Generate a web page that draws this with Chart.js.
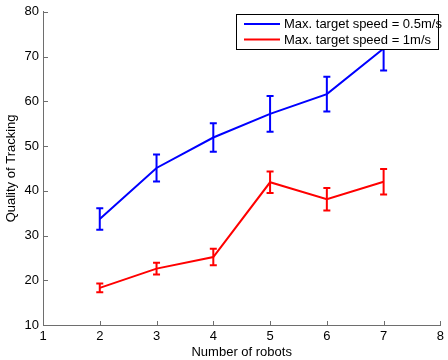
<!DOCTYPE html>
<html>
<head>
<meta charset="utf-8">
<script src="https://cdn.jsdelivr.net/npm/chart.js@4/dist/chart.umd.min.js"></script>
<style>
  html, body { margin: 0; padding: 0; background: #fff; }
  #wrap { width: 448px; height: 360px; }
</style>
</head>
<body>
<div id="wrap"><canvas id="c" width="448" height="360"></canvas></div>
<script>
// ---- data ----
const robots = [2, 3, 4, 5, 6, 7];
const speed05 = [33.7, 45.1, 51.9, 57.2, 61.6, 71.8];
const speed05Err = [2.4, 3.0, 3.2, 4.0, 3.9, 4.9];
const speed1 = [18.3, 22.6, 25.2, 41.9, 38.1, 42.0];
const speed1Err = [1.0, 1.3, 1.85, 2.4, 2.5, 2.85];
const seriesLabels = ['Max. target speed = 0.5m/s', 'Max. target speed = 1m/s'];
const xTicks = [1, 2, 3, 4, 5, 6, 7, 8];
const yTicks = [10, 20, 30, 40, 50, 60, 70, 80];

const FONT = '"Liberation Sans", Arial, Helvetica, sans-serif';
const AXIS_COLOR = '#6e6e6e';

const errorBarPlugin = {
  id: 'errorBars',
  afterDatasetsDraw(chart) {
    const ctx = chart.ctx;
    const xs = chart.scales.x, ys = chart.scales.y;
    chart.data.datasets.forEach(ds => {
      ctx.save();
      ctx.strokeStyle = ds.borderColor;
      ctx.lineWidth = 2;
      ds.data.forEach((pt, i) => {
        const e = ds.errors[i];
        const px = xs.getPixelForValue(pt.x);
        const top = ys.getPixelForValue(pt.y + e);
        const bot = ys.getPixelForValue(pt.y - e);
        ctx.beginPath();
        ctx.moveTo(px, top); ctx.lineTo(px, bot);
        ctx.moveTo(px - 3.5, top); ctx.lineTo(px + 3.5, top);
        ctx.moveTo(px - 3.5, bot); ctx.lineTo(px + 3.5, bot);
        ctx.stroke();
      });
      ctx.restore();
    });
  }
};

const innerTicksPlugin = {
  id: 'innerTicks',
  afterDraw(chart) {
    const ctx = chart.ctx;
    const xs = chart.scales.x, ys = chart.scales.y;
    const a = chart.chartArea;
    ctx.save();
    ctx.strokeStyle = AXIS_COLOR;
    ctx.lineWidth = 1;
    ctx.beginPath();
    xTicks.forEach(v => {
      const px = Math.round(xs.getPixelForValue(v)) + 0.5;
      ctx.moveTo(px, a.bottom); ctx.lineTo(px, a.bottom - 4);
    });
    yTicks.forEach(v => {
      const py = Math.round(ys.getPixelForValue(v)) + 0.5;
      ctx.moveTo(a.left, py); ctx.lineTo(a.left + 5, py);
    });
    ctx.stroke();
    ctx.restore();
  }
};

const legendBoxPlugin = {
  id: 'legendBox',
  afterDraw(chart) {
    const ctx = chart.ctx;
    const x0 = 236.5, y0 = 14.5, w = 202, h = 35;
    ctx.save();
    ctx.fillStyle = '#fff';
    ctx.fillRect(x0, y0, w, h);
    ctx.strokeStyle = '#000';
    ctx.lineWidth = 1;
    ctx.strokeRect(x0, y0, w, h);
    ctx.font = '13px ' + FONT;
    ctx.textBaseline = 'middle';
    ctx.textAlign = 'left';
    chart.data.datasets.forEach((ds, i) => {
      const yy = y0 + 9.5 + i * 15.5;
      ctx.strokeStyle = ds.borderColor;
      ctx.lineWidth = 2;
      ctx.beginPath();
      ctx.moveTo(244, yy); ctx.lineTo(280, yy);
      ctx.stroke();
      ctx.fillStyle = '#000';
      ctx.fillText(ds.label, 284, yy + 0.5);
    });
    ctx.restore();
  }
};

new Chart(document.getElementById('c'), {
  type: 'line',
  data: {
    datasets: [
      {
        label: seriesLabels[0],
        data: robots.map((r, i) => ({ x: r, y: speed05[i] })),
        errors: speed05Err,
        borderColor: '#0000ff',
        borderWidth: 2,
        pointRadius: 0,
        fill: false,
        tension: 0
      },
      {
        label: seriesLabels[1],
        data: robots.map((r, i) => ({ x: r, y: speed1[i] })),
        errors: speed1Err,
        borderColor: '#ff0000',
        borderWidth: 2,
        pointRadius: 0,
        fill: false,
        tension: 0
      }
    ]
  },
  options: {
    responsive: false,
    animation: false,
    devicePixelRatio: 1,
    layout: { padding: { left: 0, top: 9, right: 7, bottom: 0 } },
    plugins: { legend: { display: false }, tooltip: { enabled: false } },
    scales: {
      x: {
        type: 'linear',
        min: 1, max: 8,
        afterBuildTicks(scale) { scale.ticks = xTicks.map(v => ({ value: v })); },
        afterFit(scale) { scale.height = 35; },
        grid: { display: true, drawOnChartArea: false, drawTicks: false },
        border: { display: true, color: AXIS_COLOR, width: 1 },
        ticks: { color: '#000', padding: 4, font: { family: FONT, size: 13 }, maxRotation: 0 },
        title: { display: true, text: 'Number of robots', color: '#000', font: { family: FONT, size: 13 }, padding: { top: 0, bottom: 0 } }
      },
      y: {
        type: 'linear',
        min: 10, max: 80,
        afterBuildTicks(scale) { scale.ticks = yTicks.map(v => ({ value: v })); },
        afterFit(scale) { scale.width = 43; },
        grid: { display: true, drawOnChartArea: false, drawTicks: false },
        border: { display: true, color: AXIS_COLOR, width: 1 },
        ticks: { color: '#000', padding: 4, font: { family: FONT, size: 13 } },
        title: { display: true, text: 'Quality of Tracking', color: '#000', font: { family: FONT, size: 13 }, padding: { top: 4, bottom: 0 } }
      }
    }
  },
  plugins: [errorBarPlugin, innerTicksPlugin, legendBoxPlugin]
});
</script>
</body>
</html>
